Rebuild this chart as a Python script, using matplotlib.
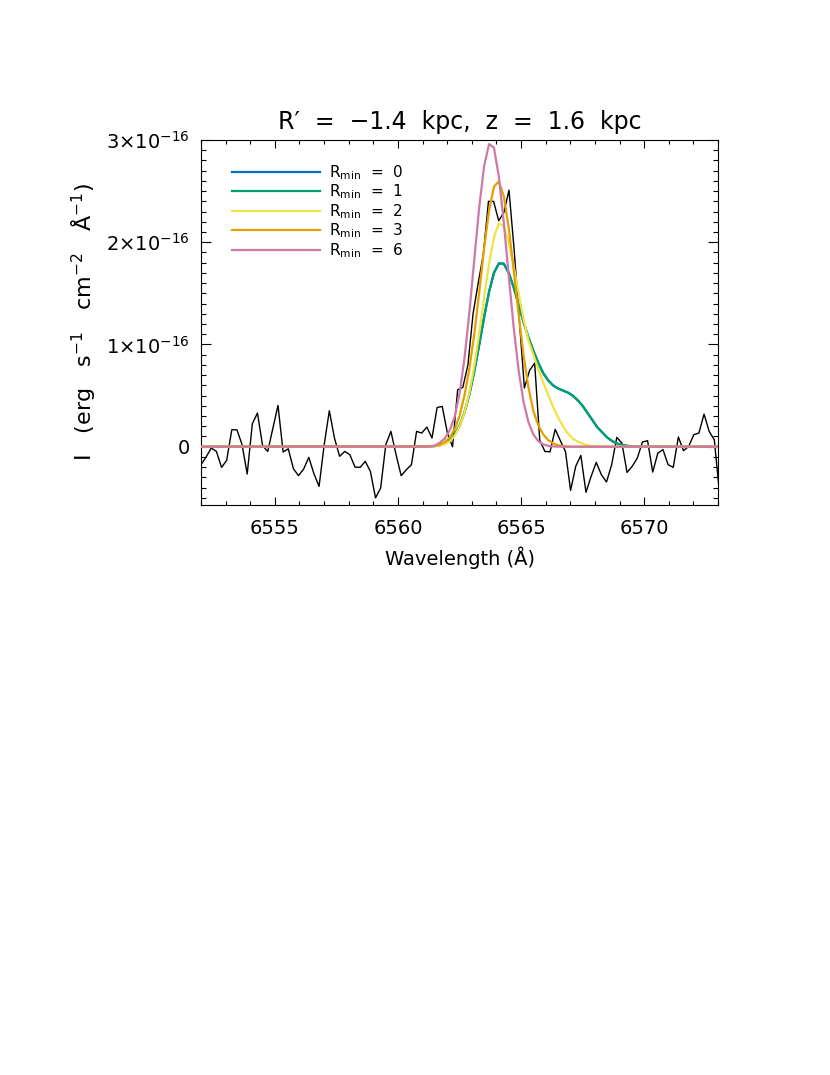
import numpy as np
import matplotlib
matplotlib.use("Agg")
import matplotlib.pyplot as plt
from matplotlib.ticker import MultipleLocator

# observed spectrum (units of 1e-16 erg/s/cm2/A), sampled every ~0.2085 A from 6552
obs_start = 6552.0
obs_step = 0.2085
obs_flux = [
    -0.176, -0.10, -0.013, -0.046, -0.202, -0.134, 0.166, 0.166, 0.02, -0.267,
    0.225, 0.329, 0.01, -0.046, 0.18, 0.404, -0.052, -0.02, -0.215, -0.283,
    -0.218, -0.104, -0.264, -0.388, 0.02, 0.352, 0.085, -0.094, -0.046, -0.078,
    -0.199, -0.202, -0.143, -0.241, -0.50, -0.404, 0.02, 0.15, -0.078, -0.283,
    -0.225, -0.176, 0.15, 0.134, 0.192, 0.085, 0.384, 0.394, 0.134, 0.0,
    0.557, 0.58, 0.80, 1.30, 1.60, 1.88, 2.40, 2.40, 2.21, 2.29,
    2.51, 1.93, 1.25, 0.574, 0.745, 0.818, 0.06, -0.046, -0.05, 0.17,
    0.06, -0.046, -0.427, -0.192, -0.085, -0.446, -0.29, -0.153, -0.274, -0.345,
    -0.176, 0.091, 0.036, -0.251, -0.192, -0.111, 0.046, 0.059, -0.248, -0.062,
    -0.029, -0.176, -0.202, 0.095, -0.039, 0.003, 0.117, 0.134, 0.319, 0.15,
    0.068, -0.45,
]

# model profiles on a 0.2 A grid, 6561.1 .. 6569.9
model_start = 6561.1
model_step = 0.2
rmin1 = [
    0.002, 0.004, 0.007, 0.015, 0.032, 0.063, 0.117, 0.204, 0.333, 0.511,
    0.736, 0.997, 1.267, 1.514, 1.701, 1.793, 1.79, 1.70, 1.56, 1.39,
    1.22, 1.07, 0.94, 0.82, 0.72, 0.65, 0.60, 0.57, 0.55, 0.53,
    0.50, 0.455, 0.40, 0.33, 0.26, 0.19, 0.14, 0.09, 0.055, 0.032,
    0.018, 0.009, 0.004, 0.001, 0.0,
]
rmin0 = list(rmin1)  # hidden under the R_min = 1 curve
rmin2 = [
    0.001, 0.002, 0.005, 0.011, 0.025, 0.052, 0.105, 0.195, 0.33, 0.53,
    0.79, 1.11, 1.46, 1.79, 2.05, 2.185, 2.16, 2.00, 1.77, 1.50,
    1.25, 1.04, 0.90, 0.76, 0.63, 0.51, 0.39, 0.29, 0.20, 0.13,
    0.08, 0.05, 0.03, 0.015, 0.007, 0.003, 0.001, 0, 0, 0,
    0, 0, 0, 0, 0,
]
rmin3 = [
    0.001, 0.003, 0.008, 0.02, 0.045, 0.09, 0.17, 0.30, 0.50, 0.76,
    1.10, 1.51, 1.94, 2.31, 2.545, 2.595, 2.45, 2.14, 1.73, 1.30,
    0.90, 0.58, 0.35, 0.21, 0.12, 0.065, 0.033, 0.015, 0.006, 0.002,
    0, 0, 0, 0, 0, 0, 0, 0, 0, 0,
    0, 0, 0, 0, 0,
]
rmin6 = [
    0.001, 0.004, 0.012, 0.04, 0.08, 0.16, 0.29, 0.52, 0.86, 1.31,
    1.83, 2.34, 2.745, 2.96, 2.925, 2.64, 2.19, 1.67, 1.17, 0.75,
    0.44, 0.24, 0.12, 0.055, 0.023, 0.009, 0.003, 0.001, 0, 0,
    0, 0, 0, 0, 0, 0, 0, 0, 0, 0,
    0, 0, 0, 0, 0,
]

model_labels = ["0", "1", "2", "3", "6"]
model_colors = ["#0072B2", "#009E73", "#F0E442", "#E69F00", "#CC79A7"]

xlim = (6552, 6573)
ylim = (-0.57, 3.0)

obs_wave = obs_start + obs_step * np.arange(len(obs_flux))
mod_wave = model_start + model_step * np.arange(len(rmin1))
# models are flat zero outside the tabulated range
mod_wave = np.concatenate([[xlim[0]], mod_wave, [xlim[1]]])

fig = plt.figure(figsize=(8.3, 10.75), dpi=100)
ax = fig.add_axes([201 / 830, 1 - 505 / 1075, 517 / 830, 365 / 1075])

ax.plot(obs_wave, obs_flux, color="black", lw=1.0, zorder=2)
for vals, lab, col in zip([rmin0, rmin1, rmin2, rmin3, rmin6], model_labels, model_colors):
    y = np.concatenate([[0.0], vals, [0.0]])
    ax.plot(mod_wave, y, color=col, lw=1.6, zorder=3,
            label=r"R$_{\rm min}$  =  " + lab)

ax.set_xlim(*xlim)
ax.set_ylim(*ylim)

ax.set_xticks([6555, 6560, 6565, 6570])
ax.xaxis.set_minor_locator(MultipleLocator(1))
ax.set_yticks([0, 1, 2, 3])
ax.set_yticklabels(["0", r"1$\times$10$^{-16}$", r"2$\times$10$^{-16}$", r"3$\times$10$^{-16}$"])
ax.yaxis.set_minor_locator(MultipleLocator(0.1))

ax.tick_params(axis="both", which="both", direction="in", top=True, right=True,
               labelsize=14, width=0.8, colors="black")
ax.tick_params(axis="x", which="major", length=5.5, pad=10)
ax.tick_params(axis="x", which="minor", length=2.8)
ax.tick_params(axis="y", which="major", length=7.5, pad=8)
ax.tick_params(axis="y", which="minor", length=3.7)
for sp in ax.spines.values():
    sp.set_linewidth(0.8)

ax.set_xlabel("Wavelength (Å)", fontsize=14, labelpad=6)
ax.set_ylabel(r"I   (erg   s$^{-1}$   cm$^{-2}$   Å$^{-1}$)", fontsize=16)
ax.yaxis.set_label_coords(-0.2, 0.5)
ax.set_title("R\u2032  =  \u22121.4  kpc,  z  =  1.6  kpc", fontsize=17, pad=8)

leg = ax.legend(loc="upper left", bbox_to_anchor=(0.06, 0.937), frameon=False,
                fontsize=11, handlelength=5.75, handletextpad=0.6,
                labelspacing=0.05, borderpad=0, borderaxespad=0)

fig.savefig("out.png", dpi=100, facecolor="white")
